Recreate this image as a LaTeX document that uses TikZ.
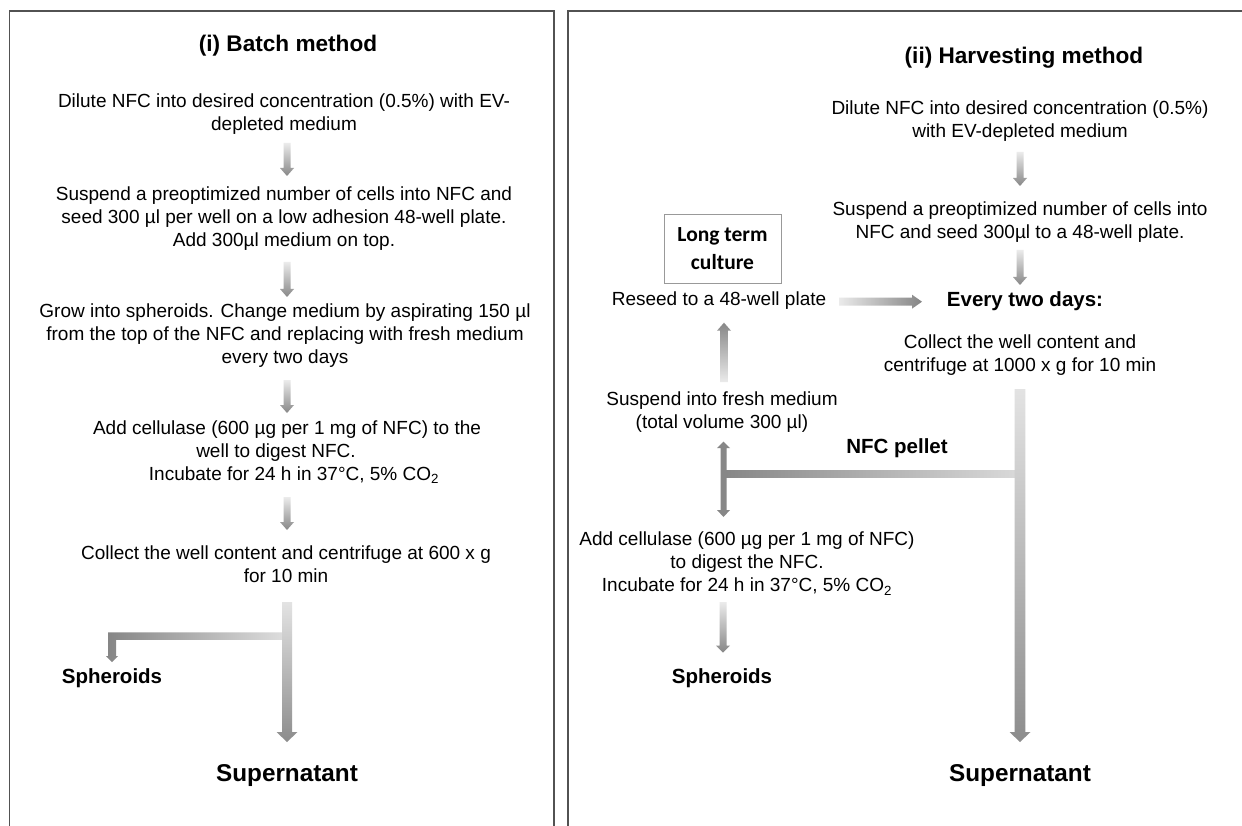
\documentclass[tikz,border=0pt]{standalone}
\usepackage{fontspec}
\setmainfont{Liberation Sans}
\newfontfamily\calfont{Carlito}
\usetikzlibrary{calc}
\newcommand\downarr[6][]{\shade[#1] let \p1=(#2), \p2=(#3) in
  (\x1-#4pt,\y1) -- (\x1+#4pt,\y1) -- (\x1+#4pt,\y2+#6pt) -- (\x1+#5pt,\y2+#6pt) -- (\x1,\y2) -- (\x1-#5pt,\y2+#6pt) -- (\x1-#4pt,\y2+#6pt) -- cycle;}
\newcommand\uparr[6][]{\shade[#1] let \p1=(#2), \p2=(#3) in
  (\x1-#4pt,\y1) -- (\x1+#4pt,\y1) -- (\x1+#4pt,\y2-#6pt) -- (\x1+#5pt,\y2-#6pt) -- (\x1,\y2) -- (\x1-#5pt,\y2-#6pt) -- (\x1-#4pt,\y2-#6pt) -- cycle;}
\newcommand\rightarr[6][]{\shade[#1] let \p1=(#2), \p2=(#3) in
  (\x1,\y1-#4pt) -- (\x1,\y1+#4pt) -- (\x2-#6pt,\y1+#4pt) -- (\x2-#6pt,\y1+#5pt) -- (\x2,\y1) -- (\x2-#6pt,\y1-#5pt) -- (\x2-#6pt,\y1-#4pt) -- cycle;}
\tikzset{
  txt/.style={font=\fontsize{19}{23}\selectfont, align=center, inner sep=0pt},
  lbl/.style={font=\bfseries\fontsize{20.5}{24}\selectfont, inner sep=0pt},
  ttl/.style={font=\bfseries\fontsize{22.6}{26}\selectfont, inner sep=0pt},
  sup/.style={font=\bfseries\fontsize{24.3}{28}\selectfont, inner sep=0pt},
  frame/.style={draw=black!68, line width=1.2pt},
  dn/.style={top color=black!8, bottom color=black!47},
  upc/.style={top color=black!47, bottom color=black!8},
  rt/.style={left color=black!8, right color=black!48},
  big/.style={top color=black!11, bottom color=black!45},
}
\begin{document}
\begin{tikzpicture}[x=1pt,y=-1pt]
\useasboundingbox (0,0) rectangle (1242,826);
\fill[white] (0,0) rectangle (1242,826);
% panel frames
\draw[frame] (9.5,830) -- (9.5,11) -- (554,11) -- (554,830);
\draw[frame] (568,830) -- (568,11) -- (1246,11);

% ---------------- left panel ----------------
\node[ttl] (t1) at (288,46) {(i) Batch method};
\node[txt] (l1) at (284,114) {Dilute NFC into desired concentration (0.5\%) with EV-\\depleted medium};
\node[txt] (l2) at (284,219) {Suspend a preoptimized number of cells into NFC and\\seed 300 µl per well on a low adhesion 48-well plate.\\Add 300µl medium on top.};
\node[txt] (l3) at (285,336) {Grow into spheroids. Change medium by aspirating 150 µl\\from the top of the NFC and replacing with fresh medium\\every two days};
\node[txt] (l4) at (287,452) {Add cellulase (600 µg per 1 mg of NFC) to the\\well to digest NFC.\rule{22pt}{0pt}\\\rule{14pt}{0pt}Incubate for 24 h in 37°C, 5\% CO\textsubscript{2}};
\node[txt] (l5) at (286,564.5) {Collect the well content and centrifuge at 600 x g\\for 10 min};
\node[lbl] (sph1) at (112,678) {Spheroids};
\node[sup] (sup1) at (287,776) {Supernatant};

\coordinate (a1s) at (287,143); \coordinate (a1e) at (287,176);
\coordinate (a2s) at (287,262); \coordinate (a2e) at (287,297);
\coordinate (a3s) at (287,380); \coordinate (a3e) at (287,413);
\coordinate (a4s) at (287,497); \coordinate (a4e) at (287,530);
\downarr[dn]{a1s}{a1e}{3.5}{7}{8}
\downarr[dn]{a2s}{a2e}{3.5}{7}{8}
\downarr[dn]{a3s}{a3e}{3.5}{7}{8}
\downarr[dn]{a4s}{a4e}{3.5}{7}{8}
% split
\coordinate (m1s) at (287,602); \coordinate (m1e) at (287,742);
\shade[left color=black!48, right color=black!13]
  (285,632.25) -- (108,632.25) -- (108,656) -- (106,656) -- (112,662) -- (118,656) -- (116,656) -- (116,639.75) -- (285,639.75) -- cycle;
\downarr[big]{m1s}{m1e}{5}{10.5}{10}

% ---------------- right panel ----------------
\node[ttl] (t2) at (1024,58) {(ii) Harvesting method};
\node[txt] (r1) at (1020,121.5) {Dilute NFC into desired concentration (0.5\%)\\with EV-depleted medium};
\node[txt] (r2) at (1020,222) {Suspend a preoptimized number of cells into\\NFC and seed 300µl to a 48-well plate.};
\node[lbl] (every) at (1025,301) {Every two days:};
\node[txt] (r3) at (1020,355.5) {Collect the well content and\\centrifuge at 1000 x g for 10 min};
\node[lbl] (pellet) at (897,448) {NFC pellet};
\node[txt] (susp) at (722,412) {Suspend into fresh medium\\(total volume 300 µl)};
\node[txt] (reseed) at (719,301) {Reseed to a 48-well plate};
\node[draw=black!40, line width=0.9pt, minimum width=117pt, minimum height=69pt, inner sep=0pt,
      font=\calfont\bfseries\fontsize{21.5}{28}\selectfont, align=center] (ltc) at (722.5,248.5) {Long term\\culture};
\node[txt] (r4) at (747,563.5) {Add cellulase (600 µg per 1 mg of NFC)\\to digest the NFC.\\Incubate for 24 h in 37°C, 5\% CO\textsubscript{2}};
\node[lbl] (sph2) at (722,678) {Spheroids};
\node[sup] (sup2) at (1020,776) {Supernatant};

\coordinate (b1s) at (1020,152); \coordinate (b1e) at (1020,186);
\coordinate (b2s) at (1020,250); \coordinate (b2e) at (1020,285);
\downarr[dn]{b1s}{b1e}{3.5}{7}{8}
\downarr[dn]{b2s}{b2e}{3.5}{7}{8}
% main bar
\coordinate (m2s) at (1020,389); \coordinate (m2e) at (1020,742);
\shade[left color=black!47, right color=black!15] (726,470) rectangle (1016,477);
\downarr[big]{m2s}{m2e}{5.3}{10.5}{10}
% double arrow
\fill[black!47] (720.5,448) -- (717,448) -- (723.5,441.7) -- (730,448) -- (726.5,448)
  -- (726.5,510) -- (730,510) -- (723.5,517) -- (717,510) -- (720.5,510) -- cycle;
% up arrow
\coordinate (us) at (724,382); \coordinate (ue) at (724,322.7);
\uparr[upc]{us}{ue}{3.8}{7}{8}
% right arrow
\coordinate (hs) at (839,301.7); \coordinate (he) at (922,301.7);
\rightarr[rt]{hs}{he}{4}{7}{10}
% down to spheroids
\coordinate (ds) at (723,602); \coordinate (de) at (723,652.7);
\downarr[dn]{ds}{de}{3.5}{7}{7}
\end{tikzpicture}
\end{document}
